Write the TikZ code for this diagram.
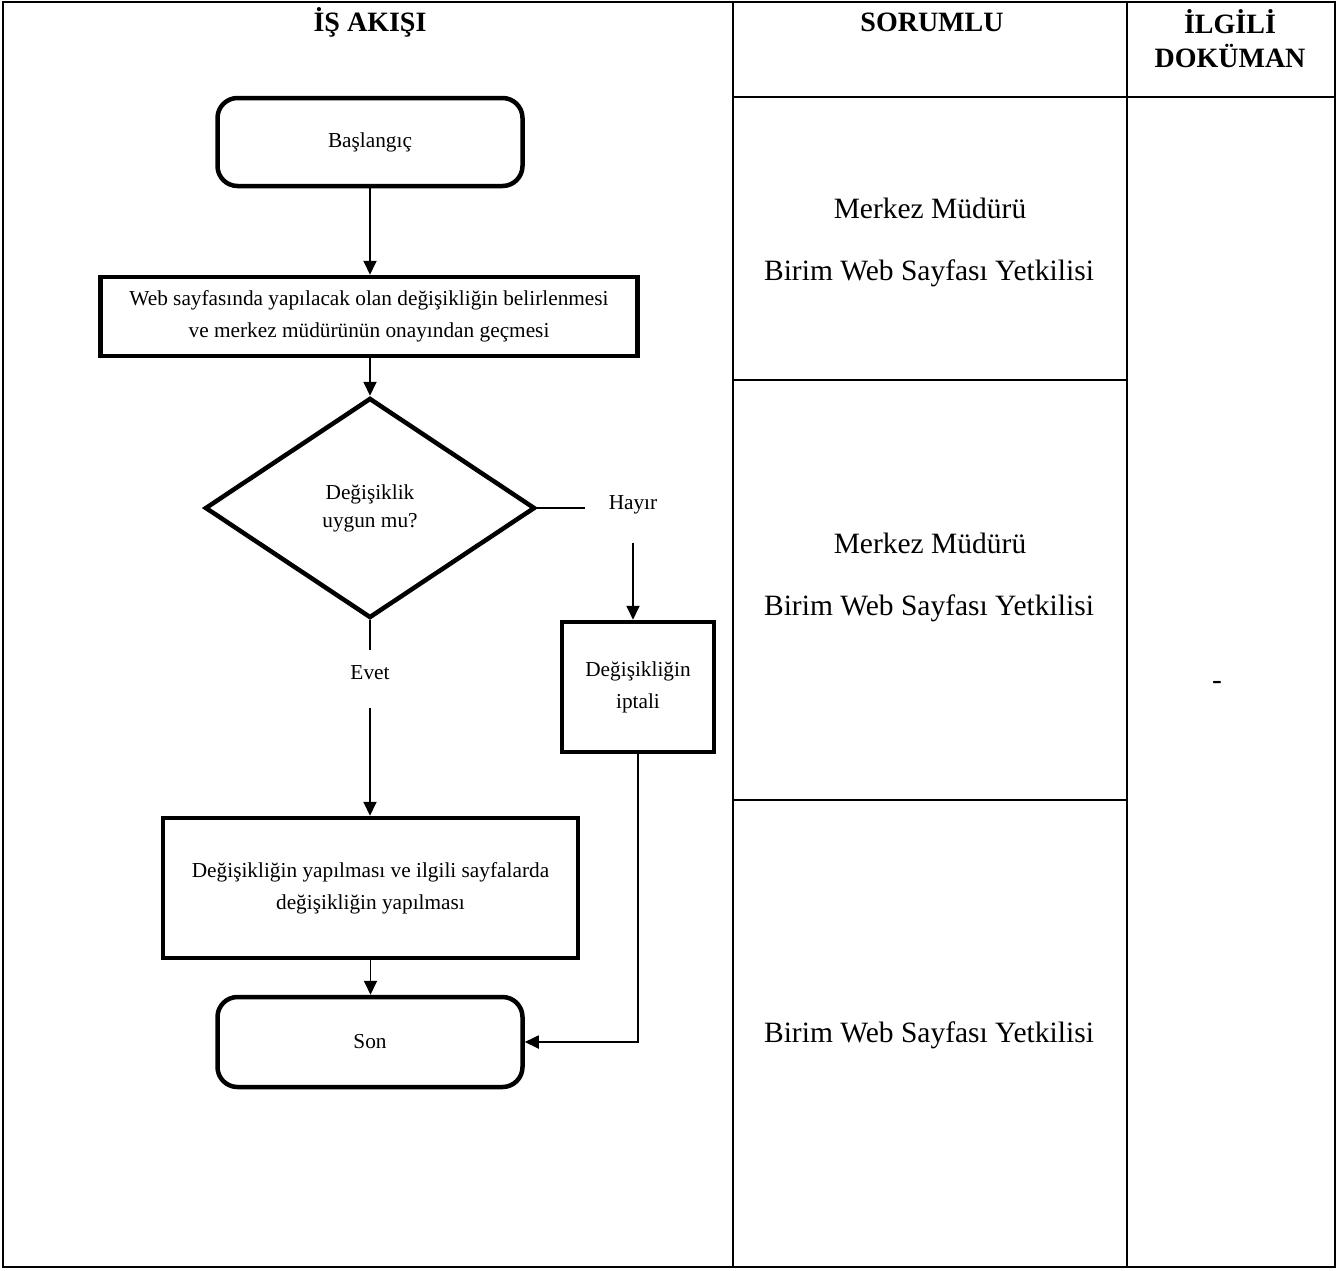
\documentclass[tikz,border=0pt]{standalone}
\usepackage{fontspec}
\setmainfont{Liberation Serif}
\usetikzlibrary{shapes.geometric,arrows.meta}
\begin{document}
\begin{tikzpicture}[x=1pt,y=-1pt,
  grid/.style={line width=2pt},
  boxbase/.style={draw, line width=4.5pt, inner sep=0pt, align=center, font=\fontsize{21.3}{32}\selectfont},
  term/.style={boxbase, rounded corners=20pt},
  proc/.style={boxbase},
  dec/.style={boxbase, shape=diamond, font=\fontsize{21.3}{28}\selectfont},
  lbl/.style={inner sep=0pt, font=\fontsize{21.3}{28}\selectfont},
  conn/.style={line width=1.8pt},
  arr/.style={conn, -{Triangle[length=14pt,width=13pt]}},
  head/.style={inner sep=0pt, align=center, font=\bfseries\fontsize{28}{34}\selectfont},
  resp/.style={inner sep=0pt, align=center, font=\fontsize{29.5}{34}\selectfont}
]
\useasboundingbox (0,0) rectangle (1339,1270);
% table
\draw[grid] (3,2) rectangle (1335,1267);
\draw[grid] (733,2) -- (733,1267);
\draw[grid] (1127,2) -- (1127,1267);
\draw[grid] (733,97) -- (1335,97);
\draw[grid] (733,380) -- (1127,380);
\draw[grid] (733,800) -- (1127,800);
% headers
\node[head] (h1) at (370,22) {İŞ AKIŞI};
\node[head] (h2) at (932,22) {SORUMLU};
\node[head] (h3) at (1230,39) {İLGİLİ\\DOKÜMAN};
% responsible
\node[resp] (r1a) at (930,208) {Merkez Müdürü};
\node[resp] (r1b) at (929,273) {Birim Web Sayfası Yetkilisi};
\node[resp] (r2a) at (930,543) {Merkez Müdürü};
\node[resp] (r2b) at (929,608) {Birim Web Sayfası Yetkilisi};
\node[resp] (r3) at (929,1035) {Birim Web Sayfası Yetkilisi};
\node[resp] (doc) at (1217,685) {-};
% flow
\node[term, minimum width=305pt, minimum height=88pt] (start) at (370,142) {Başlangıç};
\node[proc, minimum width=537pt, minimum height=79pt] (task1) at (369,316.5) {Web sayfasında yapılacak olan değişikliğin belirlenmesi\\ve merkez müdürünün onayından geçmesi};
\node[dec, minimum width=330pt, minimum height=220pt] (check) at (370,508) {Değişiklik\\uygun mu?};
\node[proc, minimum width=152pt, minimum height=130pt] (cancel) at (638,687) {Değişikliğin\\iptali};
\node[proc, minimum width=415pt, minimum height=140pt] (task2) at (370.5,888) {Değişikliğin yapılması ve ilgili sayfalarda\\değişikliğin yapılması};
\node[term, minimum width=305pt, minimum height=90pt] (stop) at (370,1042) {Son};
\node[lbl] (hayir) at (633,505) {Hayır};
\node[lbl] (evet) at (370,673) {Evet};
\coordinate (hyl) at (585,508);
\coordinate (hyb) at (633,543);
\coordinate (evt) at (370,650);
\coordinate (evb) at (370,708);
% connectors
\draw[arr] (start.south) -- (task1.north -| start.south);
\draw[arr] (task1.south -| check.north) -- (check.north);
\draw[conn] (check.east) -- (hyl);
\draw[arr] (hyb) -- (hyb |- cancel.north);
\draw[conn] (check.south) -- (evt);
\draw[arr] (evb) -- (evb |- task2.north);
\draw[arr] (task2.south) -- (task2.south |- stop.north);
\draw[arr] (cancel.south) |- (stop.east);
\end{tikzpicture}
\end{document}
